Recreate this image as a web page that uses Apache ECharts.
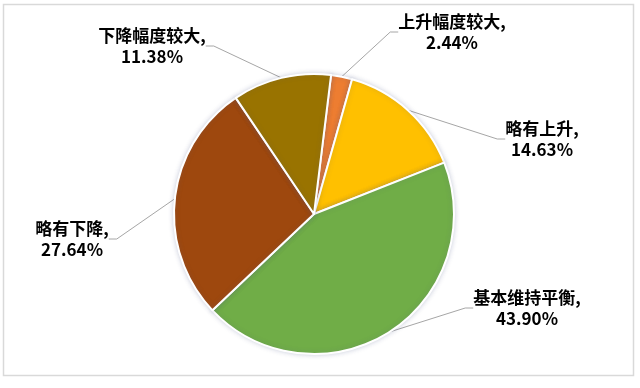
<!DOCTYPE html>
<html>
<head>
<meta charset="utf-8">
<style>html,body{margin:0;padding:0;background:#fff;}#c{width:640px;height:388px;}</style>
<script src="https://cdn.jsdelivr.net/npm/echarts@6/dist/echarts.min.js"></script>
</head>
<body>
<div id="c"></div>
<script>
const categories = ['上升幅度较大', '略有上升', '基本维持平衡', '略有下降', '下降幅度较大'];
const values = [2.44, 14.63, 43.90, 27.64, 11.38];
const colors = ['#ED7D31', '#FFC000', '#70AD47', '#9E480E', '#997300'];
const labelPos = [[452, 32], [542, 139], [527, 308], [72, 239], [152, 46]];

const chart = echarts.init(document.getElementById('c'), null, {renderer: 'canvas'});
chart.setOption({
  backgroundColor: '#fff',
  animation: false,
  graphic: [{
    type: 'rect',
    shape: {x: 3.5, y: 4.5, width: 630, height: 371},
    style: {fill: 'none', stroke: '#d9d9d9', lineWidth: 1.5},
    z: -1
  }],
  series: [{
    type: 'pie',
    center: [314, 214],
    radius: 140,
    startAngle: 83,
    clockwise: true,
    data: categories.map((n, i) => ({name: n, value: values[i], itemStyle: {color: colors[i]}})),
    itemStyle: {borderColor: '#fff', borderWidth: 2, shadowBlur: 5, shadowColor: 'rgba(80,90,140,0.25)'},
    label: {
      show: true,
      formatter: p => p.name + ',\n' + p.value.toFixed(2) + '%',
      fontFamily: '"Noto Sans CJK SC", sans-serif',
      fontWeight: 'bold',
      fontSize: 17,
      lineHeight: 21,
      color: '#000',
      align: 'center'
    },
    labelLine: {show: true, length: 20, length2: 8, lineStyle: {color: '#a6a6a6', width: 1}},
    labelLayout: p => ({
      x: labelPos[p.dataIndex][0],
      y: labelPos[p.dataIndex][1],
      align: 'center',
      verticalAlign: 'middle'
    })
  }]
});
</script>
</body>
</html>
